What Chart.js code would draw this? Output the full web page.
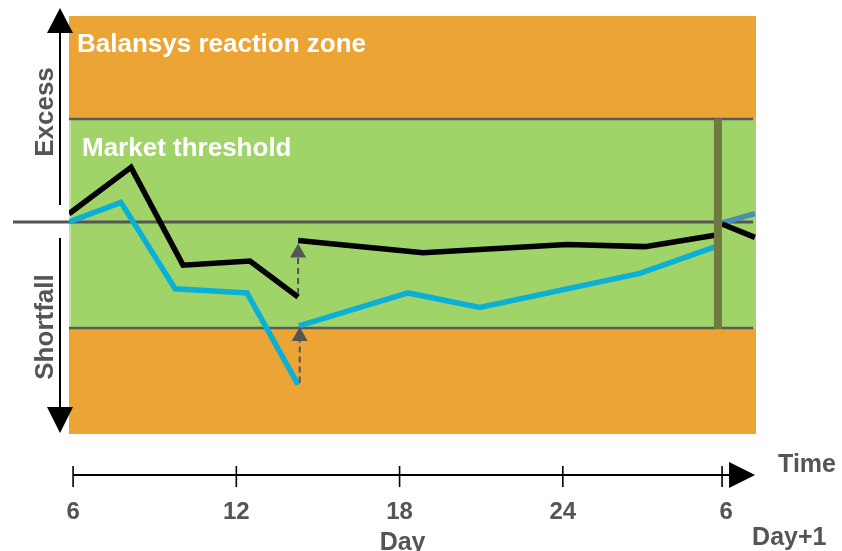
<!DOCTYPE html>
<html>
<head>
<meta charset="utf-8">
<script src="https://cdn.jsdelivr.net/npm/chart.js@4.4.1/dist/chart.umd.min.js"></script>
<style>
  html, body { margin: 0; padding: 0; background: #ffffff; }
  canvas { display: block; }
</style>
</head>
<body>
<canvas id="c" width="842" height="551"></canvas>
<script>
// ---- Data (hours of day on x; imbalance on y, thresholds at +1/-1.03) ----
const blackHours1 = [5.85, 8.13, 10.04, 12.50, 14.27];
const blackVals1  = [0.08, 0.53, -0.42, -0.38, -0.73];
const blackHours2 = [14.27, 18.86, 24.15, 27.02, 29.59];
const blackVals2  = [-0.18, -0.30, -0.22, -0.24, -0.13];
const blackHours3 = [29.85, 31.06];
const blackVals3  = [-0.02, -0.15];

const blueHours1 = [5.85, 7.76, 9.75, 12.39, 14.27];
const blueVals1  = [0.00, 0.19, -0.65, -0.69, -1.58];
const blueHours2 = [14.30, 18.31, 20.95, 26.83, 29.62];
const blueVals2  = [-1.01, -0.69, -0.83, -0.50, -0.24];
const steelHours = [29.85, 31.06];
const steelVals  = [-0.01, 0.08];

const gateHour = 29.70;                 // vertical gate-closure bar
const bandEdges = [2.0, 1.0, -1.03, -2.06]; // reaction zone / market threshold edges
const arrowHours = [14.27, 14.33];
const arrowFrom  = [-0.70, -1.56];
const arrowTo    = [-0.21, -1.02];

const tickHours  = [6, 12, 18, 24, 30];
const tickLabels = ['6', '12', '18', '24', '6'];

const xMin = 5.85, xMax = 31.1;

function pts(xs, ys) { return xs.map((x, i) => ({ x: x, y: ys[i] })); }

const C = {
  orange: '#ECA535', green: '#A1D468', black: '#000000', blue: '#0BB0D6',
  steel: '#4A8FB0', olive: '#6F7A40', gray: '#555555'
};

const bgPlugin = {
  id: 'bg',
  beforeDatasetsDraw(chart) {
    const { ctx, chartArea: a, scales: { x, y } } = chart;
    ctx.save();
    const yTop = y.getPixelForValue(bandEdges[0]);
    const yT1 = y.getPixelForValue(bandEdges[1]);
    const yT2 = y.getPixelForValue(bandEdges[2]);
    const yBot = y.getPixelForValue(bandEdges[3]);
    ctx.fillStyle = C.orange;
    ctx.fillRect(a.left, yTop, a.right - a.left, yT1 - yTop);
    ctx.fillRect(a.left, yT2, a.right - a.left, yBot - yT2);
    ctx.fillStyle = C.green;
    ctx.fillRect(a.left, yT1, a.right - a.left, yT2 - yT1);
    ctx.fillStyle = 'rgba(255,255,255,0.35)';
    ctx.fillRect(a.left, yT1, 2, yT2 - yT1);
    ctx.strokeStyle = '#5a5a5a';
    ctx.lineWidth = 2.5;
    [yT1, yT2].forEach(py => {
      ctx.beginPath(); ctx.moveTo(a.left, py); ctx.lineTo(a.right - 3, py); ctx.stroke();
    });
    const y0 = y.getPixelForValue(0);
    ctx.strokeStyle = C.gray;
    ctx.lineWidth = 3;
    ctx.beginPath(); ctx.moveTo(13, y0); ctx.lineTo(a.right - 3, y0); ctx.stroke();
    ctx.fillStyle = '#ffffff';
    ctx.font = 'bold 26px "Liberation Sans", Arial, sans-serif';
    ctx.textAlign = 'left';
    ctx.textBaseline = 'alphabetic';
    ctx.fillText('Balansys reaction zone', a.left + 8, yTop + 36);
    ctx.fillText('Market threshold', a.left + 13, yT1 + 37);
    ctx.restore();
  },
  afterDatasetsDraw(chart) {
    const { ctx, scales: { x, y } } = chart;
    ctx.save();
    arrowHours.forEach((h, i) => {
      const px = x.getPixelForValue(h);
      const pf = y.getPixelForValue(arrowFrom[i]);
      const pt = y.getPixelForValue(arrowTo[i]);
      const headH = 14, headW = 8;
      ctx.strokeStyle = C.gray;
      ctx.lineWidth = 2;
      ctx.setLineDash([6, 4]);
      ctx.beginPath(); ctx.moveTo(px, pf); ctx.lineTo(px, pt + headH); ctx.stroke();
      ctx.setLineDash([]);
      ctx.fillStyle = C.gray;
      ctx.beginPath();
      ctx.moveTo(px, pt); ctx.lineTo(px - headW, pt + headH); ctx.lineTo(px + headW, pt + headH);
      ctx.closePath(); ctx.fill();
    });
    ctx.restore();
  },
  afterDraw(chart) {
    const { ctx, chartArea: a, scales: { x, y } } = chart;
    ctx.save();
    const y0 = y.getPixelForValue(0);
    const ax = 60;
    ctx.strokeStyle = '#000'; ctx.fillStyle = '#000'; ctx.lineWidth = 2;
    ctx.beginPath(); ctx.moveTo(ax, 32); ctx.lineTo(ax, y0 - 17); ctx.stroke();
    ctx.beginPath(); ctx.moveTo(ax, 8); ctx.lineTo(ax - 13, 33); ctx.lineTo(ax + 13, 33); ctx.closePath(); ctx.fill();
    ctx.beginPath(); ctx.moveTo(ax, y0 + 16); ctx.lineTo(ax, 408); ctx.stroke();
    ctx.beginPath(); ctx.moveTo(ax, 433); ctx.lineTo(ax - 13, 407); ctx.lineTo(ax + 13, 407); ctx.closePath(); ctx.fill();
    ctx.fillStyle = C.gray;
    ctx.font = 'bold 26px "Liberation Sans", Arial, sans-serif';
    ctx.textAlign = 'center'; ctx.textBaseline = 'alphabetic';
    [['Excess', 112], ['Shortfall', 327]].forEach(([t, cy]) => {
      ctx.save(); ctx.translate(53, cy); ctx.rotate(-Math.PI / 2); ctx.fillText(t, 0, 0); ctx.restore();
    });
    const ty = a.bottom + 41;
    const x6 = x.getPixelForValue(tickHours[0]);
    const xEnd = x.getPixelForValue(tickHours[tickHours.length - 1]);
    ctx.strokeStyle = '#000'; ctx.lineWidth = 2;
    ctx.beginPath(); ctx.moveTo(x6, ty); ctx.lineTo(xEnd + 4, ty); ctx.stroke();
    ctx.fillStyle = '#000';
    ctx.beginPath(); ctx.moveTo(xEnd + 3, ty - 13); ctx.lineTo(xEnd + 29, ty); ctx.lineTo(xEnd + 3, ty + 13); ctx.closePath(); ctx.fill();
    ctx.lineWidth = 1.6;
    tickHours.forEach((h, i) => {
      const px = x.getPixelForValue(h) - (i === tickHours.length - 1 ? 4 : 0);
      ctx.beginPath(); ctx.moveTo(px, ty - 9); ctx.lineTo(px, ty + 12); ctx.stroke();
    });
    ctx.fillStyle = C.gray;
    ctx.font = 'bold 24px "Liberation Sans", Arial, sans-serif';
    ctx.textAlign = 'center';
    tickHours.forEach((h, i) => {
      ctx.fillText(tickLabels[i], x.getPixelForValue(h), ty + 44);
    });
    ctx.font = 'bold 25px "Liberation Sans", Arial, sans-serif';
    ctx.fillText('Day', x.getPixelForValue(18) + 3, ty + 75);
    ctx.textAlign = 'left';
    ctx.fillText('Day+1', xEnd + 26, ty + 70);
    ctx.fillText('Time', xEnd + 52, ty - 3);
    ctx.restore();
  }
};

const lineDs = (label, xs, ys, color) => ({
  label, data: pts(xs, ys), borderColor: color, backgroundColor: color,
  borderWidth: 5.5, pointRadius: 0, tension: 0, fill: false,
  borderJoinStyle: 'miter', borderCapStyle: 'butt'
});

new Chart(document.getElementById('c'), {
  type: 'line',
  data: {
    datasets: [
      { label: 'gate', data: pts([gateHour, gateHour], [bandEdges[1], bandEdges[2] - 0.01]),
        borderColor: C.olive, borderWidth: 8, pointRadius: 0, fill: false, borderCapStyle: 'butt' },
      lineDs('black1', blackHours1, blackVals1, C.black),
      lineDs('black2', blackHours2, blackVals2, C.black),
      lineDs('black3', blackHours3, blackVals3, C.black),
      lineDs('blue1', blueHours1, blueVals1, C.blue),
      lineDs('blue2', blueHours2, blueVals2, C.blue),
      lineDs('steel', steelHours, steelVals, C.steel)
    ]
  },
  options: {
    responsive: false,
    animation: false,
    devicePixelRatio: 1,
    layout: { padding: { left: 69, right: 86, top: 16, bottom: 117 } },
    plugins: { legend: { display: false }, tooltip: { enabled: false } },
    scales: {
      x: { type: 'linear', min: xMin, max: xMax, display: false },
      y: { type: 'linear', min: bandEdges[3], max: bandEdges[0], display: false }
    }
  },
  plugins: [bgPlugin]
});
</script>
</body>
</html>
